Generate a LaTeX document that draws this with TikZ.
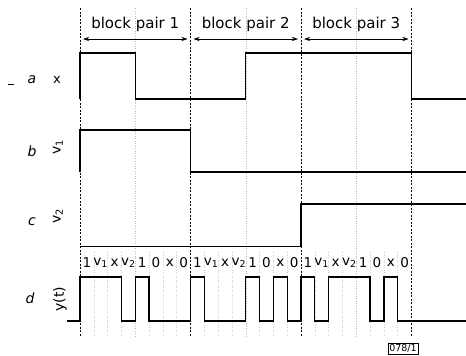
\documentclass[tikz,border=0pt]{standalone}
\usepackage{fontspec}
\setmainfont{DejaVu Sans}
\usetikzlibrary{arrows.meta, positioning, calc}

\tikzset{
  sig/.style={line width=1.3pt, line join=miter},
  blockline/.style={line width=0.8pt, dash pattern=on 2pt off 1.5pt},
  halfline/.style={gray!55, line width=0.5pt, dotted},
  bitline/.style={gray!40, line width=0.5pt, dotted},
  span/.style={{Stealth[length=6pt,width=4pt]}-{Stealth[length=6pt,width=4pt]}, line width=0.6pt},
  pairname/.style={font=\fontsize{15}{15}\selectfont},
  rowname/.style={font=\fontsize{14}{14}\selectfont\itshape},
  signame/.style={font=\fontsize{14}{14}\selectfont, rotate=90},
  bitname/.style={font=\fontsize{13.5}{13.5}\selectfont, inner sep=0pt},
}

\begin{document}
\begin{tikzpicture}[x=1pt, y=-1pt]
  \useasboundingbox (0,0) rectangle (466,356);

  % block boundaries
  \foreach \k/\bx in {0/80, 1/190.5, 2/301, 3/411.5}
    \coordinate (b\k) at (\bx,39);
  \foreach \k in {0,...,3}
    \draw[blockline] (b\k |- 0,8) -- (b\k |- 0,337);
  \foreach \hx in {135.25, 245.75, 356.25}
    \draw[halfline] (\hx,8) -- (\hx,337);

  % block pair spans
  \foreach \k/\n in {0/1, 1/2, 2/3}{
    \pgfmathtruncatemacro{\m}{\k+1}
    \draw[span] ([xshift=3]b\k) -- ([xshift=-3]b\m);
    \node[pairname] (pair\n) at ($(b\k)!0.5!(b\m)+(0,-15)$) {block pair \n};
  }

  % row labels
  \node[rowname] (rowa) at (32,80) {a};
  \node[font=\fontsize{13}{13}\selectfont] (siga) at (57,80) {x};
  \node[rowname] (rowb) at (32,151) {b};
  \node[signame] (sigb) at (58,147) {v\textsubscript{1}};
  \node[rowname] (rowc) at (32,222) {c};
  \node[signame] (sigc) at (58,216) {v\textsubscript{2}};
  \node[rowname] (rowd) at (30,298) {d};
  \node[signame] (sigd) at (60,299) {y(t)};
  \draw[line width=0.6pt] (8,84) -- (14,84);

  % signals a, b, c
  \draw[sig] (80,99) |- (135.25,53) |- (245.75,99) |- (411.5,53) |- (466,99);
  \draw[sig] (80,172) |- (190.5,130) |- (466,172);
  \draw[sig] (80,246.5) -- (301,246.5) |- (466,204);

  % signal d, in bit units
  \begin{scope}[shift={(80,0)}, x=13.8125pt]
    \foreach \i in {1,2,3,5,6,7,9,10,11,13,14,15,17,18,19,21,22,23}
      \draw[bitline] (\i,252) -- (\i,337);
    \foreach \blk in {0,8,16}
      \foreach \lab [count=\j from 0] in {1, v\textsubscript{1}, x, v\textsubscript{2}, 1, 0, x, 0}
        \node[bitname] (bit\blk-\j) at ({\blk+\j+0.5},263) {\lab};
    \draw[sig] (-0.94,321) -- (0,321) |- (3,277) |- (4,321) |- (5,277) |- (8,321)
      |- (9,277) |- (12,321) |- (13,277) |- (14,321) |- (15,277) |- (16,321)
      |- (17,277) |- (18,321) |- (21,277) |- (22,321) |- (23,277) |- (27.95,321);
  \end{scope}

  % drawing number
  \node[draw, line width=0.5pt, font=\fontsize{9.5}{9.5}\selectfont, inner sep=1.5pt] (tag) at (403,348.5) {078/1};
\end{tikzpicture}
\end{document}
